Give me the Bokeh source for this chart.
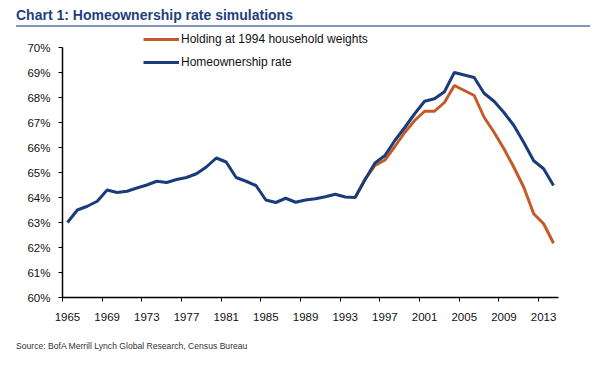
from bokeh.plotting import figure
from bokeh.layouts import column
from bokeh.models import (FixedTicker, PrintfTickFormatter, Legend, LegendItem,
                          Range1d, Div)
from bokeh.embed import file_html
from bokeh.resources import INLINE

# ---------------- data ----------------
title_text = "Chart 1: Homeownership rate simulations"
source_text = "Source: BofA Merrill Lynch Global Research, Census Bureau"

years = list(range(1965, 2015))
homeownership = [63.0, 63.5, 63.65, 63.85, 64.3, 64.2, 64.25, 64.38, 64.5, 64.65,
                 64.6, 64.72, 64.8, 64.95, 65.22, 65.58, 65.42, 64.8, 64.65, 64.48,
                 63.9, 63.8, 63.97, 63.81, 63.9, 63.95, 64.03, 64.13, 64.02, 64.0,
                 64.72, 65.38, 65.68, 66.28, 66.8, 67.35, 67.85, 67.95, 68.23, 69.0,
                 68.9, 68.8, 68.17, 67.85, 67.4, 66.88, 66.2, 65.47, 65.15, 64.48]
sim_years = list(range(1994, 2015))
holding_1994 = [64.0, 64.72, 65.28, 65.5, 66.04, 66.6, 67.08, 67.45, 67.45, 67.8,
                68.48, 68.28, 68.08, 67.21, 66.61, 65.95, 65.21, 64.41, 63.35, 62.95,
                62.17]
x_tick_years = list(range(1965, 2014, 4))
y_ticks = list(range(60, 71))

FONT = "Liberation Sans"
BLUE = "#1B3C7A"
ORANGE = "#C55A28"
TITLE_BLUE = "#1F3F7F"

# ---------------- title (with underline) ----------------
title_div = Div(text=title_text, width=574, height=27, margin=(0, 0, 0, 16),
                styles={"font-family": FONT, "font-weight": "bold",
                        "font-size": "14px", "color": TITLE_BLUE,
                        "line-height": "16px", "padding-top": "7px",
                        "box-sizing": "border-box", "white-space": "nowrap",
                        "border-bottom": "2px solid #8094B8"})

# ---------------- main chart ----------------
p = figure(width=600, height=305, output_backend="svg", toolbar_location=None,
           x_range=Range1d(1964.5, 2014.5), y_range=Range1d(60, 70.8),
           min_border_left=62, min_border_right=42, min_border_top=0,
           min_border_bottom=35, outline_line_color=None)
p.title = None
p.grid.visible = False

r_orange = p.line(sim_years, holding_1994, line_color=ORANGE, line_width=3)
r_blue = p.line(years, homeownership, line_color=BLUE, line_width=3)

xa = p.xaxis[0]
xa.ticker = FixedTicker(ticks=x_tick_years,
                        minor_ticks=[y - 0.5 for y in x_tick_years])
xa.major_tick_out = 0
xa.major_tick_in = 0
xa.minor_tick_out = 4
xa.minor_tick_in = 0
xa.minor_tick_line_color = "black"
xa.major_label_standoff = 11
xa.axis_line_color = "black"
xa.axis_line_width = 1.5

ya = p.yaxis[0]
ya.ticker = FixedTicker(ticks=y_ticks)
ya.formatter = PrintfTickFormatter(format="%d%%")
ya.bounds = (60, 70)
ya.major_tick_out = 4
ya.major_tick_in = 0
ya.minor_tick_line_color = None
ya.major_label_standoff = 8
ya.axis_line_color = "black"
ya.axis_line_width = 1.5

for ax in (xa, ya):
    ax.major_label_text_font = FONT
    ax.major_label_text_font_size = "11.5px"
    ax.major_label_text_color = "#111111"

legend = Legend(items=[LegendItem(label="Holding at 1994 household weights", renderers=[r_orange]),
                       LegendItem(label="Homeownership rate", renderers=[r_blue])],
                location=(81, 228), orientation="vertical",
                glyph_width=36, glyph_height=14, label_height=14, label_standoff=2,
                spacing=9, padding=0, margin=0, border_line_color=None,
                background_fill_alpha=0, label_text_font=FONT,
                label_text_font_size="12px", label_text_color="#111111")
p.add_layout(legend, "center")

# ---------------- source ----------------
source_div = Div(text=source_text, width=584, height=33, margin=(0, 0, 0, 16),
                 styles={"font-family": FONT, "font-size": "8.6px",
                         "color": "#333333", "line-height": "10px",
                         "padding-top": "9px", "box-sizing": "border-box",
                         "white-space": "nowrap"})

layout = column(title_div, p, source_div, spacing=0)
open("out.html", "w").write(file_html(layout, INLINE))
